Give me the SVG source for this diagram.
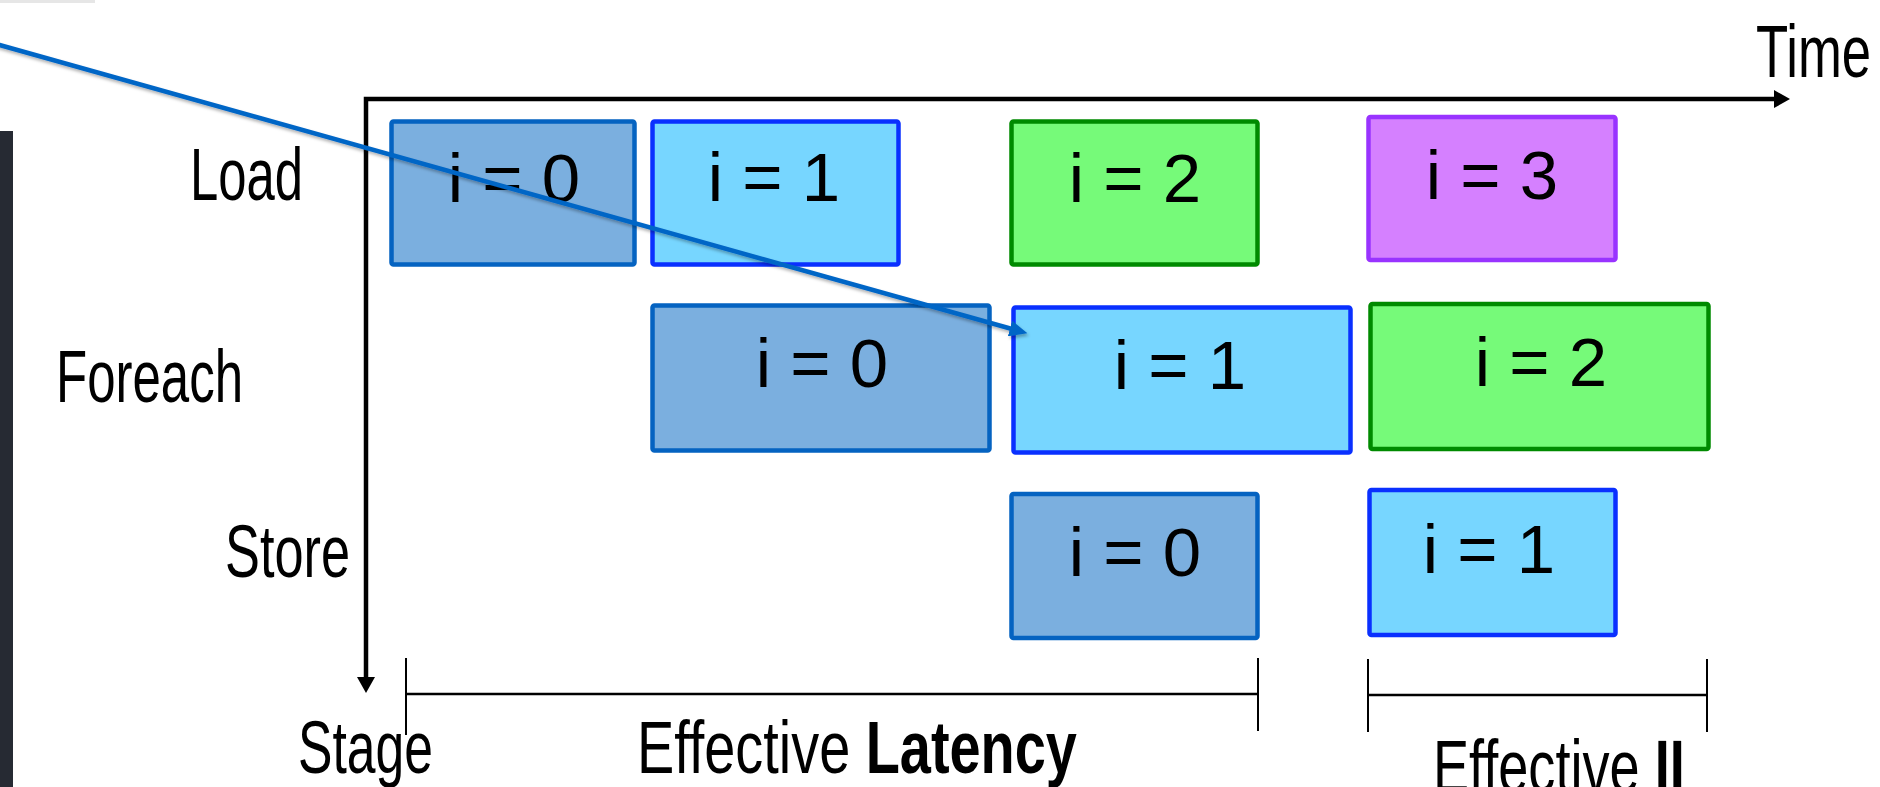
<svg xmlns="http://www.w3.org/2000/svg" width="1880" height="787" viewBox="0 0 1880 787">
  <defs>
    <style>
      .lbl { font-family: "Liberation Sans", Arial, sans-serif; font-size: 74px; fill: #000; }
      .bold { font-weight: bold; }
      .itxt { font-family: "Liberation Sans", Arial, sans-serif; font-size: 69px; fill: #000; text-anchor: middle; }
      .box { stroke-width: 4.5; }
      .it0 { fill: #7BAFDF; stroke: #0563C1; }
      .it1 { fill: #77D6FF; stroke: #0A30FF; }
      .it2 { fill: #76FA79; stroke: #008A00; }
      .it3 { fill: #D580FF; stroke: #9933FF; }
      .axis { fill: none; stroke: #000; stroke-width: 4.5; stroke-linejoin: miter; }
      .brk { fill: none; stroke: #000; stroke-width: 2.5; }
      .tick { fill: none; stroke: #000; stroke-width: 2; }
      .ptr { fill: none; stroke: #0566C6; stroke-width: 4.5; }
    </style>
    <marker id="axisHead" markerUnits="userSpaceOnUse" viewBox="0 0 16 18" refX="0" refY="9" markerWidth="16" markerHeight="18" orient="auto-start-reverse">
      <path d="M0,0 L16,9 L0,18 z" fill="#000"/>
    </marker>
    <marker id="ptrHead" markerUnits="userSpaceOnUse" viewBox="0 0 18 16" refX="2" refY="8" markerWidth="18" markerHeight="16" orient="auto">
      <path d="M0,0 L18,8 L0,16 z" fill="#0566C6"/>
    </marker>
    <filter id="softShadow" x="-5%" y="-20%" width="110%" height="160%">
      <feDropShadow dx="1.5" dy="2.5" stdDeviation="1.5" flood-color="#000" flood-opacity="0.3"/>
    </filter>
  </defs>

  <!-- page edge details -->
  <rect x="0" y="0" width="95" height="3" fill="#E6E6E6"/>
  <rect x="0" y="131" width="13" height="656" fill="#262A33"/>

  <!-- axes (labels are horizontally condensed with scale) -->
  <g id="axes">
    <path class="axis" d="M366,677 V99 H1774" marker-start="url(#axisHead)" marker-end="url(#axisHead)"/>
    <text class="lbl" transform="translate(1756,77) scale(0.712,1)">Time</text>
    <text class="lbl" transform="translate(298,773) scale(0.698,1)">Stage</text>
  </g>

  <!-- stage labels -->
  <g id="stage-labels">
    <text class="lbl" transform="translate(190,200) scale(0.687,1)">Load</text>
    <text class="lbl" transform="translate(56,402) scale(0.689,1)">Foreach</text>
    <text class="lbl" transform="translate(225,577) scale(0.707,1)">Store</text>
  </g>

  <!-- Load stage -->
  <g id="load-i0">
    <rect class="box it0" x="391.5" y="121.5" width="243" height="143" rx="2"/>
    <text class="itxt" x="514" y="202">i = 0</text>
  </g>
  <g id="load-i1">
    <rect class="box it1" x="652.5" y="121.5" width="246" height="143" rx="2"/>
    <text class="itxt" x="774" y="201">i = 1</text>
  </g>
  <g id="load-i2">
    <rect class="box it2" x="1011.5" y="121.5" width="246" height="143" rx="2"/>
    <text class="itxt" x="1135" y="202">i = 2</text>
  </g>
  <g id="load-i3">
    <rect class="box it3" x="1368.5" y="117" width="247" height="143" rx="2"/>
    <text class="itxt" x="1492" y="199">i = 3</text>
  </g>

  <!-- Foreach stage -->
  <g id="foreach-i0">
    <rect class="box it0" x="652.5" y="305.5" width="337" height="145" rx="2"/>
    <text class="itxt" x="822" y="387">i = 0</text>
  </g>
  <g id="foreach-i1">
    <rect class="box it1" x="1013.5" y="307.5" width="337" height="145" rx="2"/>
    <text class="itxt" x="1180" y="389">i = 1</text>
  </g>
  <g id="foreach-i2">
    <rect class="box it2" x="1370.5" y="304" width="338" height="145" rx="2"/>
    <text class="itxt" x="1541" y="386">i = 2</text>
  </g>

  <!-- Store stage -->
  <g id="store-i0">
    <rect class="box it0" x="1011.5" y="494" width="246" height="144" rx="2"/>
    <text class="itxt" x="1135" y="576">i = 0</text>
  </g>
  <g id="store-i1">
    <rect class="box it1" x="1369.5" y="490" width="246" height="145" rx="2"/>
    <text class="itxt" x="1489" y="573">i = 1</text>
  </g>

  <!-- span brackets -->
  <g id="latency-span">
    <path class="brk" d="M406,694 H1258"/>
    <path class="tick" d="M406,658 V735 M1258,658 V731"/>
    <text class="lbl" transform="translate(637,773) scale(0.755,1)">Effective <tspan class="bold">Latency</tspan></text>
  </g>
  <g id="ii-span">
    <path class="brk" d="M1368,695 H1707"/>
    <path class="tick" d="M1368,659 V732 M1707,659 V732"/>
    <text class="lbl" transform="translate(1433,792) scale(0.732,1)">Effective <tspan class="bold">II</tspan></text>
  </g>

  <!-- connectors -->
  <g id="connectors">
    <path class="ptr" d="M-4,44 L1012,329" marker-end="url(#ptrHead)" filter="url(#softShadow)"/>
  </g>
</svg>
